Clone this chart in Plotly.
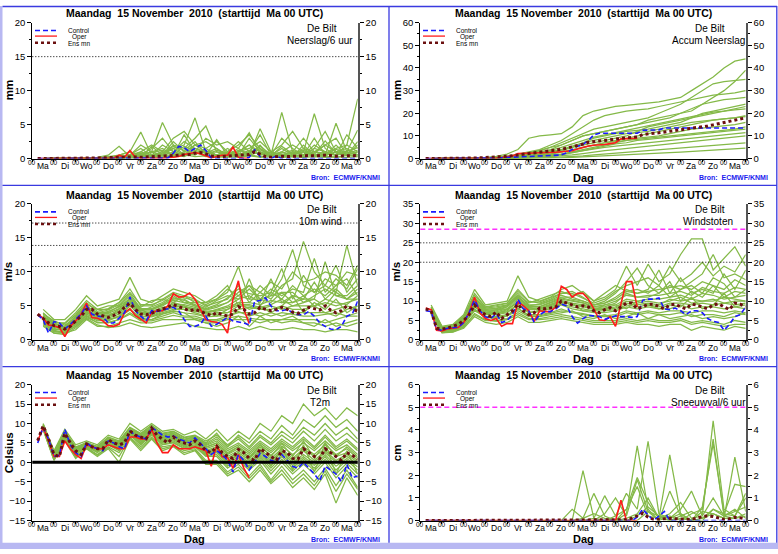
import plotly.graph_objects as go

# ---------------- data ----------------
HOURS_6 = [6 * k for k in range(1, 61)]      # 6-hourly steps, +6h .. +360h
HOURS_12 = [12 * k for k in range(1, 31)]    # 12-hourly steps for the members
DAY_BOUNDS = [24 * d for d in range(16)]
DAYS = ["Ma", "Di", "Wo", "Do", "Vr", "Za", "Zo", "Ma", "Di", "Wo", "Do", "Vr", "Za", "Zo", "Ma"]
DAY_CENTERS = [12 + 24 * d for d in range(15)]

# --- Neerslag / 6 uur (mm)
precip_mean = [0, 0, 0, 0, 0, 0, 0.02, 0.02, 0.05, 0.05,
               0.1, 0.1, 0.12, 0.15, 0.15, 0.2, 0.3, 0.3, 0.25, 0.2,
               0.25, 0.3, 0.3, 0.35, 0.45, 0.5, 0.55, 0.5, 0.6, 0.8,
               0.9, 0.7, 0.4, 0.3, 0.3, 0.35, 0.45, 0.5, 0.45, 0.6,
               1.0, 0.6, 0.3, 0.2, 0.3, 0.35, 0.3, 0.35, 0.3, 0.4,
               0.45, 0.4, 0.5, 0.5, 0.45, 0.35, 0.4, 0.45, 0.5, 0.45]
precip_ctrl = [0, 0, 0, 0, 0, 0, 0, 0, 0, 0,
               0, 0, 0, 0, 0, 0, 0, 0, 0, 0,
               0, 0, 0, 0, 0.1, 0.8, 1.8, 1.6, 1.0, 1.5,
               2.0, 1.2, 0.1, 0, 0, 0, 0.1, 0, 0, 0.2,
               1.3, 0.3, 0, 0, 0.4, 0, 0, 0, 0, 0,
               0, 0, 0, 0, 0, 0, 0, 0, 0, 0]
precip_oper = [0, 0, 0, 0, 0, 0, 0, 0, 0, 0,
               0, 0, 0, 0, 0.1, 0.5, 0.2, 1.2, 0.2, 0.1,
               0.05, 0.05, 0.05, 0.05, 0.1, 0.2, 0.3, 0.6, 0.8, 0.9,
               0.7, 0.4, 0.1, 0.3, 0.5, 0.5, 1.7, 0.2, 0.05, 0.05]
precip_members = [
    [0, 0, 0, 0, 0, 0.1, 0.3, 0.5, 1.0, 3.9, 0.5, 0.8, 1.5, 2.0, 6.0, 1.0, 0.5, 0.3, 1.0, 2.0, 1.0, 0.3, 0.5, 1.0, 0.5, 0.8, 2.0, 1.0, 0.5, 1.0],
    [0, 0, 0, 0, 0.1, 0.2, 0.5, 1.8, 0.3, 0.5, 1.0, 5.3, 2.0, 1.5, 3.0, 4.8, 1.0, 0.5, 0.3, 0.5, 4.4, 1.0, 0.3, 0.5, 1.0, 0.5, 0.3, 1.5, 2.0, 8.8],
    [0, 0, 0, 0, 0, 0, 0.1, 0.2, 0.5, 1.0, 2.0, 1.0, 3.0, 4.0, 2.0, 1.5, 2.5, 1.0, 2.0, 3.5, 1.5, 0.5, 6.8, 1.0, 0.5, 2.0, 1.0, 0.5, 1.0, 0.5],
    [0, 0, 0, 0.1, 0, 0, 0.2, 0.3, 0.2, 1.0, 0.5, 2.0, 1.0, 2.5, 1.5, 1.0, 0.5, 1.0, 2.5, 1.0, 3.5, 0.5, 1.0, 2.0, 1.0, 6.6, 1.5, 0.5, 2.0, 1.0],
    [0, 0, 0, 0, 0, 0, 0, 0.1, 0.2, 0.5, 1.5, 3.0, 1.0, 0.5, 2.0, 2.5, 1.5, 0.5, 1.0, 2.0, 0.5, 1.0, 2.0, 4.0, 1.5, 1.0, 0.5, 5.2, 1.0, 4.2],
    [0, 0.1, 0, 0, 0, 0, 0, 0.5, 1.0, 0.5, 1.0, 0.5, 2.5, 1.0, 1.0, 3.0, 2.0, 2.5, 1.5, 0.5, 2.0, 0.3, 0.5, 1.0, 3.0, 1.0, 2.0, 3.0, 0.5, 2.5],
    [0, 0, 0, 0, 0, 0, 0.1, 0, 0.5, 2.0, 1.0, 1.5, 0.5, 3.5, 1.0, 0.5, 0.5, 1.5, 0.5, 3.0, 1.0, 0.5, 1.5, 0.5, 0.5, 1.5, 4.0, 1.0, 1.5, 0.5],
    [0, 0, 0, 0, 0, 0, 0, 0.2, 0.1, 0.3, 0.5, 1.0, 0.5, 1.0, 2.0, 1.0, 0.3, 0.5, 1.0, 1.5, 2.5, 1.0, 0.5, 0.3, 2.0, 0.5, 1.0, 0.5, 3.5, 1.5],
    [0, 0, 0, 0, 0, 0.1, 0, 0.2, 0.3, 0.8, 0.3, 0.5, 1.5, 0.5, 1.5, 0.8, 1.5, 0.3, 0.5, 1.0, 1.5, 0.5, 3.0, 1.5, 0.5, 3.0, 0.5, 2.0, 0.5, 2.0],
    [0, 0, 0, 0, 0, 0, 0, 0, 0.1, 0.2, 0.2, 0.5, 0.3, 0.8, 0.5, 1.5, 0.5, 1.0, 0.5, 0.5, 1.0, 0.2, 0.5, 0.5, 1.5, 0.3, 0.5, 1.0, 0.5, 0.5],
    [0, 0, 0, 0, 0, 0, 0, 0.3, 0.5, 0.2, 1.8, 0.5, 2.0, 0.5, 1.0, 0.5, 2.8, 0.5, 1.5, 3.8, 0.8, 0.5, 1.0, 0.3, 0.5, 1.5, 1.0, 0.5, 0.8, 1.2],
    [0, 0, 0, 0, 0, 0, 0, 0, 0, 0.1, 0.3, 0.2, 0.5, 0.3, 1.0, 0.3, 0.5, 0.2, 0.8, 0.5, 0.3, 0.5, 0.2, 0.5, 0.3, 0.5, 0.3, 0.2, 0.5, 0.3],
    [0, 0, 0, 0, 0, 0, 0.1, 0.1, 0.3, 0.6, 0.8, 1.2, 0.6, 1.8, 1.2, 0.8, 1.0, 0.6, 1.2, 0.8, 1.8, 0.6, 0.8, 1.2, 0.6, 1.0, 0.8, 1.4, 0.6, 0.9],
    [0, 0, 0, 0, 0, 0, 0, 0.2, 0.2, 0.4, 0.6, 0.4, 1.0, 0.6, 0.8, 1.2, 0.4, 0.8, 0.6, 1.2, 0.6, 0.9, 0.4, 0.8, 1.0, 0.4, 0.7, 0.5, 1.0, 0.6],
    [0, 0, 0, 0, 0, 0, 0.1, 0.3, 0.6, 1.5, 0.4, 0.8, 1.8, 1.2, 2.5, 0.6, 1.2, 0.8, 0.4, 0.9, 1.3, 0.4, 1.8, 0.7, 1.2, 0.6, 2.6, 0.8, 1.1, 1.6],
    [0, 0, 0, 0, 0, 0, 0, 0, 0.1, 0.3, 0.2, 0.4, 0.2, 0.6, 0.3, 0.4, 0.2, 0.3, 0.2, 0.4, 0.2, 0.3, 0.2, 0.3, 0.2, 0.3, 0.2, 0.3, 0.2, 0.3],
]

# --- Accum Neerslag (mm)
accum_mean = [0, 0, 0, 0, 0.05, 0.1, 0.1, 0.15, 0.2, 0.25,
              0.35, 0.45, 0.55, 0.7, 0.85, 1.0, 1.3, 1.6, 1.8, 2.0,
              2.3, 2.6, 2.9, 3.2, 3.6, 4.1, 4.6, 5.1, 5.7, 6.4,
              7.2, 7.6, 7.8, 8.0, 8.2, 8.5, 8.9, 9.2, 9.4, 9.6,
              10.6, 11.0, 11.2, 11.4, 11.7, 12.0, 12.3, 12.6, 12.9, 13.2,
              13.6, 14.0, 14.4, 14.9, 15.4, 15.9, 16.4, 16.9, 17.4, 18.0]
accum_ctrl = [0, 0, 0, 0, 0, 0, 0, 0, 0, 0,
              0.05, 0.1, 0.2, 0.3, 0.4, 0.5, 0.7, 0.8, 0.9, 1.0,
              1.0, 1.1, 1.1, 1.2, 1.3, 1.6, 2.6, 4.0, 5.5, 6.2,
              8.0, 10.5, 11.2, 11.2, 11.2, 11.2, 11.2, 11.2, 11.2, 11.2,
              12.5, 12.5, 12.6, 12.7, 13.5, 13.5, 13.5, 13.5, 13.5, 13.5,
              13.5, 13.5, 13.5, 13.5, 13.5, 13.5, 13.5, 13.5, 13.5, 13.5]
accum_oper = [0, 0, 0, 0, 0, 0, 0, 0, 0, 0,
              0.05, 0.1, 0.2, 0.3, 0.5, 1.0, 1.2, 2.2, 2.4, 2.5,
              2.5, 2.6, 2.6, 2.7, 2.8, 3.0, 3.2, 3.5, 4.2, 5.0,
              5.6, 5.9, 6.0, 6.2, 6.6, 7.0, 8.7, 8.9, 9.0, 9.0]
accum_members = [
    [0, 0, 0, 0, 0.2, 0.5, 1, 2, 4, 9, 10, 10.5, 11, 14, 19, 21, 22, 23, 23.5, 24, 24.5, 25, 26, 27, 30, 33, 36, 40, 43, 44],
    [0, 0, 0, 0, 0.1, 0.3, 0.6, 1, 1.5, 2.5, 3.5, 5, 6, 8, 10, 11, 12, 13, 14, 15, 17, 18, 19, 20, 21, 24, 27, 30, 34, 39],
    [0, 0, 0, 0, 0, 0.2, 0.4, 0.8, 1.5, 2.5, 3.5, 5, 7, 9, 11, 13, 14, 15, 16, 17, 18, 20, 22, 24, 27, 30, 33, 34, 34.5, 35],
    [0, 0, 0, 0, 0, 0.2, 0.5, 1, 2, 3, 4, 6, 8, 11, 14, 17, 19, 20, 21, 21.5, 22, 23, 24, 25, 26, 27, 28, 28.5, 29, 30],
    [0, 0, 0, 0, 0, 0.1, 0.3, 0.5, 1, 2, 3, 4, 6, 8, 10, 11, 12, 13, 14, 15, 16, 17, 18, 20, 22, 24, 25, 26, 26.5, 27],
    [0, 0, 0, 0, 0, 0, 0.2, 0.5, 1, 1.5, 2, 3, 4, 5, 7, 9, 10, 11, 12, 12.5, 13, 14, 15, 16, 18, 20, 21, 22, 23, 24],
    [0, 0, 0, 0, 0, 0, 0.1, 0.3, 0.6, 1, 1.5, 2.5, 3.5, 5, 6, 7, 8, 9, 10, 12, 14, 15, 16, 17, 18, 19, 20, 21, 21.5, 22],
    [0, 0, 0, 0, 0, 0, 0, 0.2, 0.5, 1, 1.5, 2, 3, 4, 5, 6, 7, 8, 9, 10, 11, 12, 13, 14, 15, 16, 17, 17.5, 18, 19],
    [0, 0, 0, 0, 0, 0, 0, 0.1, 0.3, 0.6, 1, 1.5, 2, 3, 4, 5, 6, 7, 8, 9, 9.5, 10, 11, 12, 13, 13.5, 14, 14.5, 15, 16],
    [0, 0, 0, 0, 0, 0, 0, 0, 0.2, 0.4, 0.8, 1.2, 1.8, 2.5, 3.5, 4.5, 5.5, 6.5, 7, 8, 8.5, 9, 9.5, 10, 10.5, 11, 11.5, 12, 12.5, 13],
    [0, 0, 0, 0, 0, 0, 0, 0, 0.1, 0.2, 0.5, 0.8, 1.2, 1.6, 2.2, 3, 3.5, 4, 4.5, 5, 5.5, 6, 6.5, 7, 7.5, 8, 8.5, 9, 9.5, 10],
    [0, 0, 0, 0, 0, 0, 0, 0, 0, 0.1, 0.2, 0.4, 0.6, 0.9, 1.2, 1.6, 2, 2.4, 2.8, 3.2, 3.6, 4, 4.4, 4.8, 5.2, 5.6, 6, 6.4, 6.7, 7],
    [0, 0, 0, 0, 0, 0, 0, 0, 0, 0, 0.1, 0.2, 0.3, 0.5, 0.7, 0.9, 1.1, 1.3, 1.5, 1.8, 2, 2.3, 2.6, 2.9, 3.2, 3.5, 3.8, 4, 4.3, 4.6],
    [0, 0, 0, 0, 0, 0.1, 0.2, 0.5, 1, 1.8, 2.6, 3.6, 5, 6.5, 8, 9.5, 10.5, 11.5, 12.5, 13.5, 14.5, 15.5, 16.5, 17.5, 18.5, 19.5, 20.5, 21, 22, 23],
    [0, 0, 0, 0, 0, 0, 0.1, 0.3, 0.6, 1.2, 2, 3, 4, 5.5, 7, 8, 9, 10, 11, 11.5, 12, 13, 14, 15, 16, 16.5, 17, 17.5, 18, 18.5],
    [0, 0, 0, 0, 0, 0, 0.1, 0.2, 0.4, 0.8, 1.3, 2, 2.8, 3.8, 5, 6, 7, 7.5, 8, 8.5, 9, 9.5, 10, 10.5, 11, 11.5, 12, 12.5, 13, 14],
    [0, 0, 0, 0, 0, 0, 0, 0.1, 0.3, 0.5, 0.9, 1.4, 2, 2.7, 3.5, 4.2, 5, 5.5, 6, 6.5, 7, 7.5, 8, 8.5, 9, 9.5, 10, 10.5, 11, 11.5],
]

# --- 10m wind (m/s)
wind_mean = [3.8, 3.2, 2.5, 2.1, 2.0, 1.6, 2.0, 2.8, 3.5, 4.5,
             4.5, 3.8, 3.5, 3.3, 3.6, 4.0, 4.8, 5.4, 4.5, 3.8,
             3.7, 3.9, 4.3, 4.5, 4.8, 5.2, 4.9, 4.6, 4.3, 4.5,
             4.2, 3.8, 3.6, 4.0, 3.8, 3.5, 3.8, 4.9, 4.5, 3.8,
             4.0, 4.8, 4.5, 4.3, 4.5, 4.8, 4.5, 4.1, 3.9, 4.4,
             4.8, 4.6, 4.4, 5.0, 4.4, 4.0, 4.3, 5.0, 4.6, 4.2]
wind_ctrl = [3.7, 3.0, 1.0, 2.7, 2.5, 1.6, 2.3, 3.0, 3.8, 5.0,
             3.8, 3.5, 3.4, 2.5, 2.5, 3.2, 4.0, 6.3, 4.3, 3.5,
             2.8, 4.3, 4.2, 4.4, 4.6, 4.8, 4.3, 3.0, 2.0, 2.0,
             2.3, 3.5, 2.0, 2.3, 2.8, 3.3, 2.8, 2.7, 2.5, 2.2,
             5.7, 5.8, 6.2, 5.0, 4.3, 4.3, 4.5, 4.0, 3.7, 3.7,
             4.2, 3.5, 2.5, 2.0, 1.6, 1.5, 2.0, 3.5, 3.8, 5.7]
wind_oper = [3.8, 3.2, 2.2, 2.1, 1.8, 0.5, 2.0, 2.8, 3.8, 5.4,
             3.3, 3.2, 2.8, 2.1, 2.0, 2.3, 4.0, 4.6, 3.6, 3.0,
             2.5, 4.0, 4.3, 4.3, 5.0, 6.8, 6.3, 6.4, 6.9, 6.0,
             4.5, 3.0, 2.7, 2.6, 2.3, 1.0, 6.0, 8.7, 4.5, 2.4]
wind_members = [
    [4.5, 3.0, 3.0, 4.5, 6.5, 5.0, 5.5, 6.0, 9.2, 6.0, 5.5, 6.5, 7.5, 7.0, 6.5, 5.5, 6.0, 7.0, 10.8, 6.0, 8.0, 6.5, 9.0, 13.3, 8.0, 7.0, 9.0, 8.0, 10.0, 9.5],
    [4.0, 2.5, 2.5, 4.0, 5.8, 4.5, 4.5, 5.5, 7.5, 5.0, 5.0, 6.0, 7.0, 6.5, 6.0, 5.0, 5.5, 6.0, 8.0, 5.5, 7.0, 6.0, 8.0, 9.0, 14.5, 10.0, 8.0, 7.0, 13.9, 8.0],
    [3.5, 2.0, 2.0, 3.5, 5.0, 4.0, 4.0, 5.0, 6.5, 4.5, 4.5, 5.0, 6.0, 6.0, 5.0, 4.5, 5.0, 5.5, 7.0, 8.0, 6.0, 7.5, 6.5, 7.5, 7.0, 12.0, 7.0, 9.0, 7.5, 10.5],
    [3.0, 1.8, 1.8, 3.0, 4.5, 3.5, 3.5, 4.5, 6.0, 4.0, 4.0, 4.5, 5.5, 5.0, 4.5, 4.0, 4.5, 5.0, 6.0, 6.5, 5.5, 9.0, 5.5, 6.5, 6.0, 6.0, 11.5, 6.5, 6.0, 7.0],
    [3.2, 2.2, 1.5, 2.5, 4.0, 3.2, 3.0, 3.5, 5.0, 3.5, 3.5, 4.0, 4.5, 4.5, 4.0, 3.5, 4.0, 4.0, 5.0, 5.0, 4.5, 5.0, 4.5, 5.0, 5.0, 5.0, 5.5, 5.0, 5.5, 6.0],
    [2.5, 1.2, 1.2, 2.0, 3.5, 2.5, 2.5, 3.0, 4.0, 3.0, 3.0, 3.5, 4.0, 3.5, 3.5, 3.0, 3.0, 3.5, 4.0, 4.0, 3.5, 4.0, 3.5, 4.0, 4.0, 4.0, 4.0, 3.5, 4.5, 5.0],
    [2.0, 1.0, 1.0, 1.5, 3.0, 2.0, 2.0, 2.5, 3.0, 2.5, 2.5, 3.0, 3.0, 3.0, 3.0, 2.5, 2.5, 3.0, 3.0, 3.0, 2.5, 3.0, 3.0, 3.0, 3.0, 3.0, 2.5, 3.0, 3.5, 3.5],
    [3.8, 2.8, 2.2, 3.2, 4.8, 3.8, 4.2, 4.8, 5.5, 4.2, 4.8, 5.5, 6.5, 5.5, 5.5, 4.8, 5.8, 6.5, 6.0, 7.5, 6.0, 5.5, 7.0, 5.5, 6.0, 8.5, 6.0, 7.5, 6.0, 7.5],
    [3.0, 2.0, 1.5, 2.8, 4.2, 3.8, 3.8, 4.0, 5.5, 3.8, 4.2, 4.8, 5.0, 5.0, 4.2, 4.0, 3.5, 4.5, 5.5, 4.5, 5.0, 4.0, 5.0, 6.5, 4.0, 5.5, 4.5, 6.0, 4.0, 5.0],
    [2.8, 1.5, 1.6, 2.2, 3.8, 3.0, 2.8, 3.5, 4.5, 3.2, 3.0, 3.8, 4.2, 4.0, 3.0, 2.5, 2.0, 2.5, 3.5, 2.0, 3.5, 2.5, 3.0, 3.5, 2.5, 2.0, 3.0, 2.0, 2.5, 3.0],
    [3.5, 2.5, 1.8, 3.5, 5.2, 4.5, 5.0, 5.0, 6.0, 4.8, 5.8, 6.0, 5.5, 6.5, 5.5, 5.5, 6.5, 8.0, 5.0, 9.0, 5.0, 7.0, 10.5, 6.0, 9.5, 7.0, 8.0, 11.0, 7.0, 9.0],
    [2.2, 1.0, 0.8, 1.8, 3.2, 2.2, 1.8, 2.0, 2.5, 2.0, 1.8, 2.0, 2.2, 2.5, 2.0, 1.8, 1.5, 1.5, 2.0, 1.5, 2.0, 1.5, 1.5, 1.8, 1.5, 1.5, 1.2, 1.5, 1.5, 1.2],
    [3.6, 2.3, 2.0, 3.3, 4.9, 4.0, 4.4, 5.2, 6.8, 4.6, 4.6, 5.3, 6.2, 5.8, 5.2, 4.6, 5.2, 6.2, 7.5, 6.8, 6.5, 7.0, 6.0, 8.0, 6.5, 7.5, 6.5, 8.0, 9.0, 6.5],
    [3.3, 2.1, 1.7, 3.0, 4.4, 3.6, 3.6, 4.3, 5.8, 4.3, 4.0, 4.6, 5.3, 5.2, 4.8, 4.2, 4.4, 4.8, 5.5, 5.5, 5.2, 5.8, 5.5, 5.5, 6.5, 5.0, 6.0, 5.5, 5.2, 6.5],
    [2.9, 1.7, 1.3, 2.6, 4.0, 3.3, 3.2, 3.8, 5.2, 3.8, 3.6, 4.2, 4.8, 4.5, 4.3, 3.8, 3.8, 4.0, 4.5, 4.8, 4.5, 4.5, 5.0, 4.5, 4.5, 5.0, 4.0, 4.5, 5.0, 4.5],
    [2.6, 1.4, 1.1, 2.3, 3.6, 2.8, 3.0, 3.3, 4.4, 3.4, 3.4, 3.8, 4.3, 4.0, 3.8, 3.4, 3.5, 3.6, 4.2, 3.5, 4.0, 3.5, 4.0, 3.8, 3.5, 3.5, 3.8, 4.0, 3.5, 4.0],
    [3.9, 2.6, 2.4, 3.7, 5.5, 4.2, 4.6, 5.5, 7.0, 5.2, 5.2, 5.8, 6.8, 6.2, 5.8, 5.2, 6.0, 7.5, 6.5, 8.0, 7.0, 8.5, 7.5, 10.0, 8.5, 9.0, 10.0, 9.5, 8.0, 11.0],
    [3.4, 2.4, 1.9, 3.1, 4.6, 3.9, 3.9, 4.6, 6.2, 4.4, 4.4, 5.2, 5.8, 5.5, 5.0, 4.4, 4.8, 5.5, 6.5, 6.0, 6.0, 6.5, 7.0, 7.0, 5.5, 6.5, 7.5, 6.5, 6.5, 8.0],
    [2.4, 1.3, 1.0, 2.0, 3.3, 2.6, 2.6, 3.0, 3.8, 2.8, 2.8, 3.2, 3.6, 3.3, 3.2, 2.8, 2.8, 3.2, 3.5, 3.2, 3.0, 3.0, 2.5, 2.8, 2.5, 2.5, 2.0, 2.5, 2.0, 2.5],
    [3.1, 2.0, 1.4, 2.7, 4.1, 3.4, 3.4, 4.1, 5.6, 4.0, 3.8, 4.4, 5.0, 4.8, 4.6, 4.0, 4.2, 4.5, 5.2, 5.2, 4.8, 5.2, 6.0, 5.0, 5.5, 6.0, 5.0, 7.0, 6.0, 6.0],
]

# --- Windstoten (m/s)
gust_mean = [8.0, 7.5, 3.0, 2.8, 3.0, 3.5, 4.0, 5.0, 6.5, 9.0,
             7.5, 6.5, 6.0, 7.2, 5.5, 6.5, 7.5, 9.2, 7.5, 6.5,
             7.0, 8.2, 8.0, 8.2, 8.5, 10.0, 9.5, 9.0, 8.5, 8.8,
             8.5, 7.5, 7.0, 7.8, 8.3, 7.5, 8.5, 9.5, 9.5, 8.0,
             8.5, 9.2, 9.2, 8.5, 8.0, 9.0, 9.2, 8.5, 8.0, 9.2,
             9.0, 8.5, 8.0, 9.0, 9.3, 8.5, 7.8, 9.5, 9.2, 8.5]
gust_ctrl = [7.5, 7.3, 2.8, 2.5, 3.0, 3.2, 3.3, 4.5, 7.0, 10.2,
             7.5, 6.0, 5.5, 6.8, 4.5, 5.0, 6.5, 10.5, 8.0, 7.5,
             4.5, 6.5, 7.3, 7.3, 8.0, 9.2, 8.8, 6.0, 4.3, 5.5,
             6.3, 6.2, 6.0, 5.3, 5.8, 6.2, 6.0, 6.0, 5.8, 6.0,
             10.2, 10.5, 10.5, 10.8, 8.0, 7.8, 8.2, 7.5, 6.5, 7.5,
             7.5, 7.0, 5.5, 4.8, 4.5, 2.5, 4.0, 6.0, 6.5, 8.5]
gust_oper = [8.2, 7.8, 2.5, 2.3, 2.8, 3.0, 3.2, 4.5, 7.0, 11.0,
             7.0, 5.5, 5.0, 5.5, 3.5, 4.2, 4.2, 9.8, 8.8, 7.5,
             4.8, 7.5, 7.3, 7.3, 8.5, 13.8, 13.0, 11.0, 12.0, 12.0,
             10.5, 8.0, 5.2, 5.0, 6.0, 3.5, 9.0, 15.0, 15.0, 8.5]
gust_members = [
    [9.0, 3.5, 4.0, 6.5, 13.0, 9.0, 9.5, 10.0, 16.5, 11.0, 10.0, 11.0, 13.0, 14.0, 12.0, 10.0, 11.0, 13.0, 19.0, 14.0, 19.5, 15.0, 17.0, 22.0, 26.0, 26.0, 18.0, 21.0, 24.0, 19.0],
    [8.5, 3.2, 3.5, 6.0, 12.0, 8.5, 9.0, 9.5, 13.0, 10.0, 9.5, 10.5, 12.0, 12.5, 11.0, 9.0, 10.0, 12.0, 15.0, 18.5, 14.0, 12.0, 14.0, 13.0, 15.0, 17.0, 22.0, 16.0, 17.0, 15.5],
    [8.0, 3.0, 3.3, 5.5, 11.0, 8.0, 8.0, 9.0, 12.0, 9.0, 9.0, 10.0, 11.0, 11.0, 10.0, 9.0, 9.5, 11.0, 13.0, 12.0, 13.0, 18.0, 12.0, 16.0, 12.0, 13.0, 12.0, 17.0, 13.0, 18.0],
    [7.8, 2.8, 3.0, 5.0, 10.0, 7.5, 7.5, 8.5, 11.0, 8.5, 8.5, 9.5, 10.5, 10.0, 9.5, 8.5, 8.5, 9.5, 12.0, 11.0, 11.0, 12.0, 15.0, 10.0, 12.5, 11.0, 14.0, 11.0, 12.5, 12.0],
    [7.5, 2.7, 3.2, 4.8, 9.5, 7.0, 7.0, 7.5, 10.0, 8.0, 8.0, 9.0, 10.0, 9.0, 8.5, 8.0, 8.0, 8.5, 10.0, 9.5, 10.0, 9.5, 10.0, 11.0, 9.5, 10.0, 10.5, 9.5, 10.0, 10.0],
    [7.2, 2.5, 2.8, 4.5, 8.5, 6.5, 6.5, 7.0, 9.0, 7.0, 7.5, 8.0, 9.0, 8.0, 7.5, 7.0, 7.0, 7.5, 8.5, 8.0, 8.5, 8.0, 8.0, 9.0, 8.0, 8.5, 8.5, 8.0, 8.5, 8.0],
    [7.0, 2.2, 2.5, 4.0, 7.5, 6.0, 6.0, 6.5, 8.0, 6.5, 6.5, 7.0, 8.0, 7.0, 6.5, 6.0, 6.0, 6.0, 7.0, 6.5, 7.0, 6.5, 6.5, 7.0, 6.0, 6.5, 6.5, 6.0, 7.0, 6.5],
    [6.8, 2.0, 2.2, 3.5, 6.5, 5.0, 5.0, 5.5, 7.0, 5.5, 5.5, 6.0, 6.5, 6.0, 5.5, 5.0, 5.0, 5.0, 5.5, 5.0, 5.5, 5.0, 5.0, 5.5, 4.5, 5.0, 4.5, 4.0, 5.0, 4.5],
    [6.5, 1.8, 2.0, 3.0, 6.0, 4.5, 4.0, 4.5, 6.0, 4.5, 4.5, 5.0, 5.5, 5.0, 4.5, 4.0, 4.0, 4.0, 4.5, 4.0, 4.0, 3.5, 4.0, 4.0, 2.5, 3.5, 3.0, 2.5, 3.5, 3.0],
    [8.2, 3.3, 3.8, 6.2, 10.5, 8.2, 8.5, 9.0, 11.5, 9.5, 10.5, 11.5, 12.5, 11.5, 12.5, 10.0, 12.0, 14.0, 12.5, 13.0, 12.0, 14.0, 11.0, 13.0, 14.0, 12.0, 16.0, 14.5, 11.0, 13.0],
    [7.6, 2.6, 3.1, 5.2, 9.0, 7.0, 7.8, 8.0, 9.5, 8.5, 7.5, 8.5, 9.5, 9.5, 7.5, 7.5, 9.0, 9.0, 8.0, 10.0, 9.0, 8.0, 9.0, 8.5, 11.0, 8.0, 9.0, 12.0, 8.5, 9.0],
    [7.0, 2.3, 2.6, 4.2, 8.0, 5.8, 5.5, 6.2, 7.5, 6.0, 6.0, 6.5, 7.0, 7.5, 6.0, 5.5, 6.5, 5.5, 6.0, 7.0, 5.5, 6.5, 5.5, 6.0, 6.5, 5.5, 6.0, 5.5, 6.0, 7.0],
    [7.9, 3.0, 3.4, 5.6, 10.8, 7.8, 8.2, 8.8, 11.2, 8.8, 9.2, 10.2, 11.5, 10.5, 10.0, 9.0, 9.5, 10.5, 12.5, 12.0, 12.5, 13.0, 13.5, 14.0, 13.0, 15.0, 14.0, 13.0, 15.5, 14.0],
    [7.4, 2.7, 3.0, 5.0, 9.8, 7.2, 7.2, 8.0, 10.5, 8.2, 8.2, 9.2, 10.2, 9.5, 9.0, 8.2, 8.2, 9.0, 10.5, 10.0, 10.5, 10.5, 11.0, 11.5, 10.5, 12.0, 11.5, 10.5, 11.0, 11.5],
    [7.1, 2.4, 2.7, 4.3, 8.8, 6.8, 6.8, 7.2, 9.2, 7.2, 7.2, 8.2, 9.2, 8.5, 8.0, 7.5, 7.5, 7.8, 9.0, 8.5, 9.0, 8.5, 9.5, 9.5, 9.0, 9.5, 9.0, 9.5, 9.0, 9.5],
    [6.9, 2.1, 2.4, 3.8, 7.8, 5.8, 5.8, 6.2, 8.2, 6.2, 6.2, 6.8, 7.5, 7.2, 6.8, 6.2, 6.2, 6.5, 7.5, 7.0, 7.5, 7.0, 7.5, 7.5, 7.0, 7.5, 7.5, 7.0, 7.5, 7.0],
    [6.6, 1.9, 2.1, 3.3, 6.8, 5.2, 4.8, 5.2, 6.5, 5.2, 5.2, 5.5, 6.0, 5.5, 5.0, 4.5, 4.5, 4.5, 5.0, 4.5, 5.0, 4.5, 4.5, 5.0, 4.0, 4.5, 4.0, 3.5, 4.0, 4.0],
    [8.4, 3.4, 3.6, 5.8, 11.5, 8.4, 8.8, 9.4, 12.5, 9.8, 9.8, 10.8, 12.0, 12.0, 10.8, 9.5, 10.5, 12.5, 14.0, 15.0, 16.0, 14.0, 19.0, 15.0, 17.0, 20.0, 16.5, 19.0, 17.5, 22.0],
    [7.3, 2.6, 2.9, 4.6, 9.2, 7.0, 6.8, 7.8, 9.8, 7.8, 7.8, 8.8, 9.8, 9.0, 8.8, 7.8, 7.8, 8.2, 9.5, 9.0, 9.5, 9.0, 10.5, 10.0, 10.5, 10.0, 10.0, 11.0, 10.5, 10.0],
    [7.7, 2.9, 3.2, 5.3, 10.2, 7.6, 7.8, 8.6, 10.8, 8.6, 8.6, 9.8, 10.8, 10.2, 9.6, 8.6, 9.0, 10.0, 11.5, 11.0, 11.5, 11.5, 12.0, 12.5, 11.5, 13.5, 12.5, 12.0, 13.5, 13.0],
]

# --- T2m (Celsius)
t2m_mean = [5.6, 9.4, 6.0, 2.0, 1.5, 7.5, 5.0, 3.0, 2.0, 4.7,
            4.0, 3.5, 3.5, 5.8, 5.0, 4.5, 5.0, 8.1, 7.0, 6.5,
            6.0, 8.8, 7.0, 6.0, 5.0, 6.5, 5.5, 5.0, 4.5, 5.5,
            4.5, 3.0, 2.5, 4.1, 2.5, 1.5, 1.0, 3.3, 2.5, 1.0,
            0.5, 3.5, 2.5, 1.5, 0.5, 3.0, 2.5, 1.0, 0.8, 3.5,
            2.5, 1.5, 1.0, 3.5, 2.5, 1.5, 0.5, 2.5, 1.8, 0.8]
t2m_ctrl = [5.0, 9.0, 6.0, 1.5, 1.8, 8.5, 4.5, 2.5, 1.5, 5.0,
            4.0, 3.5, 3.0, 5.5, 5.0, 4.0, 3.5, 8.0, 7.0, 6.5,
            6.0, 9.0, 8.0, 7.0, 6.5, 6.8, 6.0, 5.5, 5.0, 6.3,
            5.0, 3.5, 2.0, 3.0, 2.0, 0.5, -2.5, 2.0, 0.5, -2.0,
            0.0, 2.3, 1.5, 0.5, 0.0, 2.0, 0.5, -1.0, -1.5, 0.0,
            -1.5, -3.0, -4.8, -1.0, -2.0, -3.0, -5.0, -0.5, -4.0, -3.5]
t2m_oper = [5.5, 9.0, 5.5, 1.5, 1.5, 5.5, 3.5, 2.0, 1.0, 4.5,
            4.0, 3.5, 3.5, 4.5, 4.0, 3.5, 3.5, 6.5, 6.5, 6.0,
            6.0, 8.5, 5.0, 2.5, 2.5, 4.5, 3.5, 3.5, 3.5, 4.0,
            3.5, 3.0, -1.0, 4.5, 1.5, 1.2, -1.5, 2.0, -1.5, -4.0]
t2m_members = [
    [10.0, 3.0, 8.5, 4.5, 5.5, 4.5, 7.0, 6.0, 10.0, 8.0, 10.0, 8.0, 8.5, 7.0, 8.0, 6.0, 8.5, 5.5, 8.0, 6.0, 10.0, 8.0, 12.0, 10.0, 15.0, 12.0, 14.0, 11.0, 14.0, 12.0],
    [9.8, 2.5, 8.0, 4.0, 5.0, 4.0, 6.5, 5.5, 9.0, 7.5, 9.5, 7.5, 8.0, 6.5, 7.0, 5.5, 7.0, 4.5, 6.5, 4.0, 7.0, 5.0, 8.0, 6.0, 9.0, 7.0, 10.0, 7.0, 9.0, 6.0],
    [9.6, 2.2, 7.8, 3.5, 5.0, 3.8, 6.0, 5.0, 8.5, 7.0, 9.0, 7.0, 7.5, 6.0, 6.5, 4.5, 6.0, 3.5, 5.0, 3.0, 5.5, 3.5, 6.0, 4.0, 6.5, 4.0, 7.0, 4.0, 6.0, 3.5],
    [9.5, 2.0, 7.5, 3.2, 4.8, 3.5, 6.0, 4.5, 8.0, 6.5, 9.0, 6.5, 7.0, 5.5, 6.0, 4.0, 5.0, 2.5, 4.0, 2.0, 4.5, 2.5, 5.0, 3.0, 5.0, 3.0, 5.5, 3.0, 4.5, 2.0],
    [9.3, 1.8, 7.2, 2.8, 4.5, 3.3, 5.5, 4.2, 8.0, 6.0, 8.5, 6.0, 6.5, 5.0, 5.5, 3.0, 4.0, 1.5, 3.0, 1.0, 3.5, 1.0, 3.5, 1.0, 3.5, 1.5, 3.5, 1.5, 2.5, 0.5],
    [9.2, 1.5, 7.0, 2.5, 4.5, 3.0, 5.0, 4.0, 7.5, 5.5, 8.0, 5.5, 6.0, 4.5, 5.0, 2.5, 3.0, 0.5, 2.0, 0.0, 2.5, 0.0, 2.5, 0.0, 2.0, 0.0, 2.5, 0.0, 1.5, -0.5],
    [9.0, 1.3, 6.8, 2.2, 4.2, 2.8, 5.0, 3.5, 7.5, 5.0, 7.5, 5.0, 5.5, 4.0, 4.5, 2.0, 2.5, -0.5, 1.5, -1.0, 1.5, -1.5, 1.5, -1.5, 1.0, -1.5, 1.5, -2.0, 0.5, -2.0],
    [8.8, 1.0, 6.5, 2.0, 4.0, 2.5, 4.5, 3.0, 7.0, 4.5, 7.0, 4.5, 5.0, 3.5, 4.0, 1.5, 1.5, -1.5, 0.5, -2.0, 0.5, -3.0, 0.0, -3.0, -0.5, -3.0, 0.0, -4.0, -1.0, -4.0],
    [8.6, 0.8, 6.0, 1.5, 3.8, 2.0, 4.0, 2.5, 6.5, 4.0, 6.5, 4.0, 4.5, 3.0, 3.5, 0.5, 0.5, -2.5, -0.5, -3.5, -0.5, -4.5, -1.0, -4.5, -2.0, -5.0, -1.5, -6.0, -2.0, -6.5],
    [8.5, 0.5, 5.5, 1.0, 3.5, 1.5, 3.5, 0.0, 6.0, 3.0, 6.0, 3.0, 4.0, 2.0, 3.0, -0.5, -0.5, -3.5, -2.0, -5.0, -2.0, -5.5, -3.0, -6.5, -4.0, -7.0, -3.0, -10.5, -4.0, -8.5],
    [9.4, 2.8, 7.6, 3.8, 4.8, 4.2, 6.2, 5.2, 8.8, 7.2, 9.4, 6.8, 7.2, 5.8, 6.8, 5.0, 7.5, 4.0, 7.0, 5.0, 8.0, 6.0, 9.5, 7.0, 11.0, 9.0, 12.0, 9.0, 11.0, 8.0],
    [9.0, 1.6, 7.3, 2.6, 4.3, 3.0, 5.2, 3.8, 7.8, 5.8, 8.2, 5.2, 6.2, 4.2, 5.2, 2.8, 3.5, 1.0, 2.5, -1.5, 3.0, -1.0, 4.0, -2.0, 4.5, -2.5, 5.0, -3.0, 3.0, -3.0],
    [9.4, 2.4, 7.6, 3.4, 4.9, 3.6, 6.1, 4.8, 8.4, 6.8, 9.1, 6.8, 7.3, 5.8, 6.3, 4.3, 5.5, 3.0, 4.5, 2.5, 5.0, 3.0, 5.5, 3.5, 6.0, 3.5, 6.5, 3.5, 5.5, 3.0],
    [9.2, 2.0, 7.4, 3.0, 4.7, 3.4, 5.7, 4.4, 8.1, 6.2, 8.7, 6.2, 6.8, 5.3, 5.8, 3.5, 4.5, 2.0, 3.5, 1.5, 4.0, 1.8, 4.2, 2.0, 4.0, 2.0, 4.5, 2.0, 3.5, 1.0],
    [9.1, 1.7, 7.1, 2.7, 4.4, 3.2, 5.3, 4.1, 7.7, 5.7, 8.1, 5.7, 6.3, 4.8, 5.3, 2.8, 3.5, 1.0, 2.5, 0.5, 3.0, 0.5, 3.0, 0.5, 3.0, 0.5, 3.0, 0.5, 2.0, 0.0],
    [8.9, 1.4, 6.9, 2.4, 4.3, 2.9, 5.1, 3.7, 7.6, 5.2, 7.8, 5.2, 5.8, 4.3, 4.8, 2.2, 2.8, 0.0, 1.8, -0.5, 2.0, -0.8, 2.0, -0.8, 1.5, -0.8, 2.0, -1.0, 1.0, -1.2],
    [8.7, 1.1, 6.6, 2.1, 4.1, 2.6, 4.7, 3.2, 7.2, 4.7, 7.2, 4.7, 5.2, 3.7, 4.2, 1.7, 2.0, -1.0, 1.0, -1.5, 1.0, -2.2, 0.8, -2.3, 0.5, -2.2, 0.8, -3.0, -0.2, -3.0],
    [9.7, 2.6, 7.9, 3.7, 5.2, 3.9, 6.3, 5.3, 8.9, 7.3, 9.6, 7.3, 7.8, 6.3, 6.8, 4.8, 6.5, 4.0, 6.0, 3.5, 6.5, 4.5, 7.0, 5.0, 8.0, 5.5, 8.5, 5.5, 7.5, 5.0],
    [8.4, 0.6, 5.8, 1.2, 3.6, 1.8, 3.8, 1.5, 6.3, 3.5, 6.2, 3.5, 4.2, 2.5, 3.2, 0.0, 0.0, -3.0, -1.2, -4.2, -1.2, -5.0, -2.0, -5.5, -3.0, -6.0, -2.2, -7.5, -3.0, -7.0],
    [9.5, 2.1, 7.7, 3.3, 4.6, 3.7, 5.9, 4.6, 8.2, 6.4, 8.9, 6.4, 7.0, 5.4, 6.0, 3.8, 5.0, 2.2, 4.0, 1.0, 4.5, 1.5, 4.8, 1.5, 5.5, 1.0, 5.0, 1.5, 4.0, 1.5],
]

# --- Sneeuwval / 6 uur (cm)
snow_mean = [0, 0, 0, 0, 0, 0, 0, 0, 0, 0,
             0, 0, 0, 0, 0, 0, 0, 0, 0, 0,
             0, 0, 0, 0, 0, 0, 0.01, 0.02, 0.03, 0.03,
             0.03, 0.04, 0.04, 0.03, 0.03, 0.05, 0.05, 0.04, 0.1, 0.2,
             0.32, 0.15, 0.05, 0.05, 0.08, 0.1, 0.08, 0.06, 0.05, 0.06,
             0.1, 0.18, 0.2, 0.18, 0.1, 0.05, 0.08, 0.15, 0.12, 0.08]
snow_ctrl = [0, 0, 0, 0, 0, 0, 0, 0, 0, 0,
             0, 0, 0, 0, 0, 0, 0, 0, 0, 0,
             0, 0, 0, 0, 0, 0, 0, 0, 0, 0,
             0, 0, 0, 0, 0, 0, 0, 0, 0, 0.15,
             0.5, 0.25, 0, 0.2, 0.4, 0, 0, 0, 0, 0,
             0, 0, 0, 0, 0, 0, 0, 0, 0, 0]
snow_oper = [0, 0, 0, 0, 0, 0, 0, 0, 0, 0,
             0, 0, 0, 0, 0, 0, 0, 0, 0, 0,
             0, 0, 0, 0, 0, 0, 0, 0, 0, 0,
             0, 0, 0, 0, 0, 0, 0.9, 0, 0, 0]
snow_members = [
    [0, 0, 0, 0, 0, 0, 0, 0, 0, 0, 0, 0, 0, 0, 2.2, 0.1, 0, 0, 0.3, 3.3, 0.5, 0, 0.2, 0, 0.3, 0.5, 3.6, 0.2, 0.5, 0.1],
    [0, 0, 0, 0, 0, 0, 0, 0, 0, 0, 0, 0, 0, 0.5, 0.1, 1.2, 0.2, 0, 0.5, 1.9, 0.8, 0.1, 2.9, 0.3, 0, 0.4, 0.3, 0.1, 2.8, 0.4],
    [0, 0, 0, 0, 0, 0, 0, 0, 0, 0, 0, 0, 0, 0, 0, 0.1, 1.1, 0.2, 1.2, 0.5, 3.5, 0.3, 0.1, 0.5, 1.3, 0.2, 4.4, 0.5, 0.2, 1.0],
    [0, 0, 0, 0, 0, 0, 0, 0, 0, 0, 0, 0, 0, 0, 0, 0, 0.3, 1.0, 0.2, 1.8, 0.4, 0, 1.3, 0.2, 0, 0.6, 3.4, 0.3, 1.6, 1.5],
    [0, 0, 0, 0, 0, 0, 0, 0, 0, 0, 0, 0, 0, 0, 0, 0, 0, 0.2, 0.5, 1.5, 0.2, 0.1, 0.3, 0.8, 0.1, 0.2, 1.0, 0.2, 0.4, 0.6],
    [0, 0, 0, 0, 0, 0, 0, 0, 0, 0, 0, 0, 0, 0, 0, 0, 0, 0, 0.1, 0.3, 1.0, 0.1, 0, 0.2, 0.4, 0.1, 0.5, 0.3, 0.2, 1.2],
    [0, 0, 0, 0, 0, 0, 0, 0, 0, 0, 0, 0, 0, 0, 0.1, 0.3, 0.1, 0, 0, 0.2, 0.6, 0.2, 0, 0.1, 0, 0.1, 0.3, 0.1, 0.1, 0.3],
    [0, 0, 0, 0, 0, 0, 0, 0, 0, 0, 0, 0, 0, 0, 0, 0, 0, 0, 0, 0, 0.4, 0.2, 0.1, 0.3, 0, 0, 0.5, 0.2, 0.1, 0.2],
]

# ---------------- styling / layout ----------------
W, H = 778, 554
FONT = "Liberation Sans, Arial, Helvetica, sans-serif"
GREEN = "rgb(132,185,72)"
BLUE = "#1a1aff"
RED = "#ff1a1a"
MEAN_COL = "#6b1010"
MAGENTA = "#ff30ff"
FRAME_BLUE = "#3a3ae0"
LAVENDER = "#b8b8f2"

TITLE = "Maandag\u00a0 15 November\u00a0 2010\u00a0 (starttijd\u00a0 Ma 00 UTC)"

COL_X = [0, 388]
ROW_Y = [0, 185, 369.3]
PL, PR, PT, PB = 32.3, 357.7, 17.0, 155.7


def fx(x):
    return x / W


def fy(y):
    return 1 - y / H


DOT = "1px,2px"
panels = [
    dict(row=0, col=0, ylab="mm", var="Neerslag/6 uur", yr=[0, 20], dt=5,
         members=precip_members, ctrl=precip_ctrl, oper=precip_oper, mean=precip_mean,
         hlines=[(15, "black", DOT, 1)]),
    dict(row=0, col=1, ylab="mm", var="Accum Neerslag", yr=[0, 60], dt=10,
         members=accum_members, ctrl=accum_ctrl, oper=accum_oper, mean=accum_mean,
         hlines=[]),
    dict(row=1, col=0, ylab="m/s", var="10m wind", yr=[0, 20], dt=5,
         members=wind_members, ctrl=wind_ctrl, oper=wind_oper, mean=wind_mean,
         hlines=[(10.8, "black", DOT, 1), (13.9, "black", DOT, 1), (17.2, "black", DOT, 1)]),
    dict(row=1, col=1, ylab="m/s", var="Windstoten", yr=[0, 35], dt=5,
         members=gust_members, ctrl=gust_ctrl, oper=gust_oper, mean=gust_mean,
         hlines=[(20, "black", DOT, 1), (25, "black", DOT, 1), (28.5, MAGENTA, "5px,3px", 1.5)]),
    dict(row=2, col=0, ylab="Celsius", var="T2m", yr=[-15, 20], dt=5,
         members=t2m_members, ctrl=t2m_ctrl, oper=t2m_oper, mean=t2m_mean,
         hlines=[(0, "black", "solid", 3)]),
    dict(row=2, col=1, ylab="cm", var="Sneeuwval/6 uur", yr=[0, 6], dt=1,
         members=snow_members, ctrl=snow_ctrl, oper=snow_oper, mean=snow_mean,
         hlines=[(5, MAGENTA, "5px,3px", 1.5)]),
]

fig = go.Figure()
layout = dict(
    width=W, height=H, margin=dict(l=0, r=0, t=0, b=0),
    paper_bgcolor="white", plot_bgcolor="white", showlegend=False,
    font=dict(family=FONT, color="black", size=10),
)
annotations = []
shapes = []

for i, p in enumerate(panels, start=1):
    cx = COL_X[p["col"]]
    ry = ROW_Y[p["row"]]
    xname = "x" if i == 1 else f"x{i}"
    yname = "y" if i == 1 else f"y{i}"
    yright = f"y{i + 6}"
    xkey = "xaxis" if i == 1 else f"xaxis{i}"
    ykey = "yaxis" if i == 1 else f"yaxis{i}"

    for m in p["members"]:
        fig.add_trace(go.Scatter(x=HOURS_12, y=m, mode="lines", xaxis=xname, yaxis=yname,
                                 line=dict(color=GREEN, width=1.25), hoverinfo="skip"))
    fig.add_trace(go.Scatter(x=HOURS_6[:len(p["oper"])], y=p["oper"], mode="lines",
                             xaxis=xname, yaxis=yname, line=dict(color=RED, width=1.6)))
    fig.add_trace(go.Scatter(x=HOURS_6, y=p["ctrl"], mode="lines", xaxis=xname, yaxis=yname,
                             line=dict(color=BLUE, width=1.6, dash="5px,3px")))
    # ensemble mean drawn on the (identical) right-hand axis so that axis is rendered
    fig.add_trace(go.Scatter(x=HOURS_6, y=p["mean"], mode="lines", xaxis=xname, yaxis=yright,
                             line=dict(color=MEAN_COL, width=3, dash="3px,3px")))

    dom_x = [fx(PL + cx), fx(PR + cx)]
    dom_y = [fy(PB + ry), fy(PT + ry)]
    layout[xkey] = dict(
        domain=dom_x, anchor=yname, range=[0, 360], tickmode="array",
        tickvals=DAY_BOUNDS, showticklabels=False, ticks="outside", ticklen=2, tickcolor="black",
        showline=True, linecolor="black", linewidth=1,
        showgrid=False, zeroline=False, fixedrange=True,
    )
    yax = dict(
        domain=dom_y, range=p["yr"], dtick=p["dt"], tick0=0,
        ticks="outside", ticklen=4, tickwidth=1, tickcolor="black",
        minor=dict(ticks="outside", ticklen=2, dtick=p["dt"] / 2, tickcolor="black", showgrid=False),
        showgrid=False, zeroline=False, fixedrange=True, tickfont=dict(size=9.5),
    )
    layout[ykey] = dict(yax, anchor=xname, side="left", showline=True, linecolor="black", linewidth=1)
    layout[f"yaxis{i + 6}"] = dict(yax, anchor=xname, overlaying=yname, side="right",
                                  showline=True, linecolor="#555555", linewidth=2)

    # reference lines
    for (val, col, dash, wid) in p["hlines"]:
        shapes.append(dict(type="line", xref=f"{xname} domain", yref=yname, x0=0, x1=1, y0=val, y1=val,
                           line=dict(color=col, width=wid, dash=dash), layer="above"))

    # texts
    annotations.append(dict(text="<b>" + TITLE + "</b>", x=fx(195 + cx), y=fy(7.5 + ry), xref="paper", yref="paper",
                            showarrow=False, xanchor="center", yanchor="middle", font=dict(size=10.5)))
    annotations.append(dict(text="De Bilt", x=fx(322 + cx), y=fy(23 + ry), xref="paper", yref="paper",
                            showarrow=False, xanchor="center", yanchor="middle", font=dict(size=10)))
    annotations.append(dict(text=p["var"], x=fx(320 + cx), y=fy(35 + ry), xref="paper", yref="paper",
                            showarrow=False, xanchor="center", yanchor="middle", font=dict(size=10)))
    annotations.append(dict(text="<b>" + p["ylab"] + "</b>", x=fx(8.5 + cx), y=fy(86.5 + ry), xref="paper",
                            yref="paper", showarrow=False, textangle=-90, xanchor="center", yanchor="middle",
                            font=dict(size=11.5)))
    annotations.append(dict(text="<b>Dag</b>", x=fx(195 + cx), y=fy(175 + ry), xref="paper", yref="paper",
                            showarrow=False, xanchor="center", yanchor="middle", font=dict(size=11)))
    annotations.append(dict(text="<b>Bron:  ECMWF/KNMI</b>", x=fx(345 + cx), y=fy(175 + ry), xref="paper",
                            yref="paper", showarrow=False, xanchor="center", yanchor="middle",
                            font=dict(size=7, color="#1a1aee")))
    for b in DAY_BOUNDS:
        annotations.append(dict(text="00", x=b, xref=xname, y=fy(159.5 + ry), yref="paper",
                                showarrow=False, xanchor="center", yanchor="middle", font=dict(size=6.5)))
    for d, name in zip(DAY_CENTERS, DAYS):
        annotations.append(dict(text=name, x=d, xref=xname, y=fy(163.5 + ry), yref="paper",
                                showarrow=False, xanchor="center", yanchor="middle", font=dict(size=8.5)))

    # legend
    leg = [("Control", BLUE, "5px,3px", 1.6, 25.0, 25.0),
           ("Oper", RED, "solid", 1.3, 30.7, 31.5),
           ("Ens mn", MEAN_COL, "3px,3px", 2.5, 37.5, 38.0)]
    for (lab, col, dash, wid, yl, yt) in leg:
        shapes.append(dict(type="line", xref="paper", yref="paper", x0=fx(35 + cx), x1=fx(57 + cx),
                           y0=fy(yl + ry), y1=fy(yl + ry), line=dict(color=col, width=wid, dash=dash),
                           layer="above"))
        annotations.append(dict(text=lab, x=fx(79 + cx), y=fy(yt + ry), xref="paper", yref="paper",
                                showarrow=False, xanchor="center", yanchor="middle", font=dict(size=6.5)))

# frame and separators
shapes += [
    dict(type="rect", xref="paper", yref="paper", x0=0, x1=fx(2.5), y0=0, y1=1,
         fillcolor=LAVENDER, line=dict(width=0), layer="above"),
    dict(type="rect", xref="paper", yref="paper", x0=0, x1=1, y0=0, y1=fy(547.5),
         fillcolor=LAVENDER, line=dict(width=0), layer="above"),
    dict(type="line", xref="paper", yref="paper", x0=fx(2.5), x1=fx(777), y0=fy(183), y1=fy(183),
         line=dict(color=FRAME_BLUE, width=1.3)),
    dict(type="line", xref="paper", yref="paper", x0=fx(2.5), x1=fx(777), y0=fy(368), y1=fy(368),
         line=dict(color=FRAME_BLUE, width=1.3)),
    dict(type="line", xref="paper", yref="paper", x0=fx(389), x1=fx(389), y0=fy(547.5), y1=1,
         line=dict(color=FRAME_BLUE, width=1.3)),
    dict(type="line", xref="paper", yref="paper", x0=fx(776.8), x1=fx(776.8), y0=fy(547.5), y1=1,
         line=dict(color=FRAME_BLUE, width=1.3)),
    dict(type="line", xref="paper", yref="paper", x0=fx(2.5), x1=fx(777), y0=fy(0.5), y1=fy(0.5),
         line=dict(color=FRAME_BLUE, width=1.3)),
]

layout["annotations"] = annotations
layout["shapes"] = shapes
fig.update_layout(**layout)
fig.write_html("out.html", config={"displayModeBar": False, "staticPlot": True},
               post_script="document.body.style.margin='0px';")
